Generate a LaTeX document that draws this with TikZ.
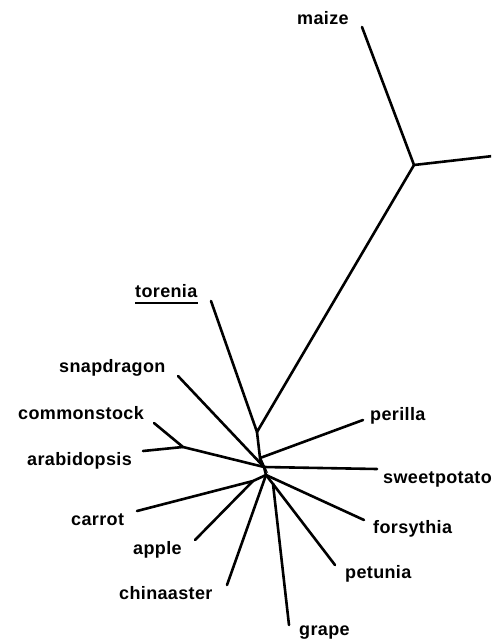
\documentclass[tikz,border=0pt]{standalone}
\usepackage{fontspec}
\newfontfamily\taxonfont{Liberation Sans}[LetterSpace=2]
\tikzset{
  branch/.style={line width=2.6pt, line cap=round},
  taxon/.style={font=\taxonfont\bfseries\fontsize{18}{18}\selectfont, anchor=base west, inner sep=0pt}
}
\begin{document}
\begin{tikzpicture}[x=1pt, y=-1pt]
	\useasboundingbox (0,0) rectangle (491,642);
	\clip (0,0) rectangle (491,642);

	% Inner nodes of the tree
	\coordinate (M) at (414,165); % maize split
	\coordinate (A) at (257,432); % torenia split
	\coordinate (B) at (260,458); % perilla split
	\coordinate (C) at (264,467); % centre
	\coordinate (G) at (183,447); % crucifers
	\coordinate (D) at (266,475);
	\coordinate (E) at (253,481); % carrot + apple
	\coordinate (F) at (273,484); % grape + petunia

	% Tips
	\coordinate (tMaize) at (362,27);
	\coordinate (tEast) at (493,156);
	\coordinate (tTorenia) at (211,301);
	\coordinate (tPerilla) at (363,420);
	\coordinate (tSnap) at (178,376);
	\coordinate (tStock) at (154,423);
	\coordinate (tArab) at (143,451);
	\coordinate (tSweet) at (377,469);
	\coordinate (tCarrot) at (137,511);
	\coordinate (tApple) at (195,540);
	\coordinate (tAster) at (227,585);
	\coordinate (tGrape) at (289,625);
	\coordinate (tPetunia) at (335,565);
	\coordinate (tForsy) at (364,520);

	% Branches
	\draw[branch] (tMaize) -- (M) -- (tEast);
	\draw[branch] (M) -- (A) -- (tTorenia);
	\draw[branch] (A) -- (B) -- (tPerilla);
	\draw[branch] (B) -- (C) -- (tSnap);
	\draw[branch] (C) -- (G) -- (tStock);
	\draw[branch] (G) -- (tArab);
	\draw[branch] (C) -- (tSweet);
	\draw[branch] (C) -- (D) -- (tForsy);
	\draw[branch] (D) -- (E) -- (tCarrot);
	\draw[branch] (E) -- (tApple);
	\draw[branch] (D) -- (tAster);
	\draw[branch] (D) -- (F) -- (tGrape);
	\draw[branch] (F) -- (tPetunia);

	% Labels
	\node[taxon] (maize) at (297,25) {maize};
	\node[taxon] (torenia) at (135,297) {torenia};
	\draw[line width=2.4pt] (torenia.base west) ++(0,6) coordinate (ulA) -- (torenia.base east |- ulA);
	\node[taxon] (snapdragon) at (59,372) {snapdragon};
	\node[taxon] (commonstock) at (18,419) {commonstock};
	\node[taxon] (arabidopsis) at (27,465) {arabidopsis};
	\node[taxon] (perilla) at (370,420) {perilla};
	\node[taxon] (sweetpotato) at (383,483) {sweetpotato};
	\node[taxon] (carrot) at (71,525) {carrot};
	\node[taxon] (forsythia) at (373,533) {forsythia};
	\node[taxon] (apple) at (133,554) {apple};
	\node[taxon] (petunia) at (345,578) {petunia};
	\node[taxon] (chinaaster) at (119,599) {chinaaster};
	\node[taxon] (grape) at (299,635) {grape};
\end{tikzpicture}
\end{document}
